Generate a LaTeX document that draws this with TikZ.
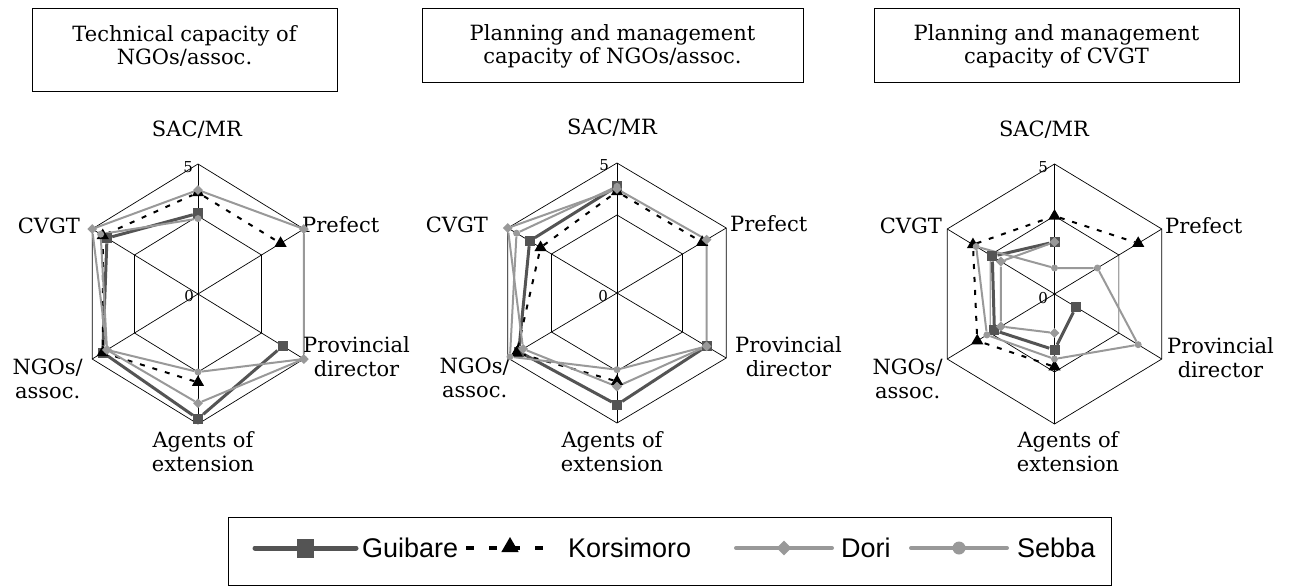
\documentclass[tikz,border=0pt]{standalone}
\usepackage{fontspec}
\setmainfont{DejaVu Serif}
\newfontfamily\legendfont{Liberation Sans}
\usetikzlibrary{shapes.geometric}
\pgfdeclarelayer{background}
\pgfsetlayers{background,main}
\definecolor{guibarecol}{gray}{0.33}
\definecolor{greycol}{gray}{0.6}
\tikzset{
  gridline/.style={draw=black, line width=0.7pt},
  framebox/.style={draw=black, line width=1pt},
  axislabel/.style={font=\fontsize{21}{24}\selectfont, inner sep=0pt, align=center},
  ticklabel/.style={font=\fontsize{15}{16}\selectfont, inner sep=0pt},
  titletext/.style={font=\fontsize{21}{23}\selectfont, align=center, inner sep=0pt},
  legendtext/.style={font=\legendfont\fontsize{27}{29}\selectfont, anchor=west, inner sep=0pt},
  guibare/.style={draw=guibarecol, line width=3pt, line join=round},
  korsimoro/.style={draw=black, line width=2pt, dash pattern=on 5pt off 8pt},
  dori/.style={draw=greycol, line width=2pt, line join=round},
  sebba/.style={draw=greycol, line width=2pt, line join=round},
  sqmark/.style={rectangle, fill=guibarecol, minimum size=10pt, inner sep=0pt},
  trimark/.style={regular polygon, regular polygon sides=3, fill=black, minimum size=14pt, inner sep=0pt},
  diamark/.style={diamond, fill=greycol, minimum size=10pt, inner sep=0pt},
  dotmark/.style={circle, fill=greycol, minimum size=7pt, inner sep=0pt},
}
\begin{document}
\begin{tikzpicture}[x=1pt,y=1pt]
\useasboundingbox (0,0) rectangle (1294,-586);

% title boxes
\draw[framebox] (32,-9) rectangle (337,-92);
\node[titletext] (title-a) at (184.5,-46) {Technical capacity of\\NGOs/assoc.};
\draw[framebox] (422,-9) rectangle (803,-83);
\node[titletext] (title-b) at (612.5,-46) {Planning and management\\capacity of NGOs/assoc.};
\draw[framebox] (874,-9) rectangle (1239,-83);
\node[titletext] (title-c) at (1056.5,-46) {Planning and management\\capacity of CVGT};

% hexagon grids
\begin{pgfonlayer}{background}
\foreach \cx/\cy/\xs in {198/-294/0.94, 617/-293/0.97, 1054.5/-294/0.953}{
  \begin{scope}[shift={(\cx,\cy)}, xscale=\xs]
    \draw[gridline] (90:130) -- (30:130) -- (-30:130) -- (-90:130) -- (-150:130) -- (150:130) -- cycle;
    \draw[gridline] (90:78) -- (30:78) -- (-30:78) -- (-90:78) -- (-150:78) -- (150:78) -- cycle;
    \foreach \a in {90,30,-30,-90,-150,150}
      \draw[gridline] (0,0) -- (\a:130);
  \end{scope}
}
\end{pgfonlayer}

% axis labels
\node[axislabel, anchor=base] (a-sac) at (197,-136) {SAC/MR};
\node[axislabel, anchor=base west] (a-pref) at (302,-232) {Prefect};
\node[axislabel, anchor=west] (a-prov) at (303,-357) {Provincial\\director};
\node[axislabel, anchor=north] (a-agents) at (203,-431) {Agents of\\extension};
\node[axislabel, anchor=north east] (a-ngos) at (83,-359) {NGOs/\\assoc.};
\node[axislabel, anchor=base east] (a-cvgt) at (80,-233) {CVGT};
\node[ticklabel, anchor=east] (a-max) at (193,-167) {5};
\node[ticklabel, anchor=east] (a-min) at (194,-296) {0};

\node[axislabel, anchor=base] (b-sac) at (612,-135) {SAC/MR};
\node[axislabel, anchor=base west] (b-pref) at (730,-231) {Prefect};
\node[axislabel, anchor=west] (b-prov) at (735,-357) {Provincial\\director};
\node[axislabel, anchor=north] (b-agents) at (612,-431) {Agents of\\extension};
\node[axislabel, anchor=north east] (b-ngos) at (510,-358) {NGOs/\\assoc.};
\node[axislabel, anchor=base east] (b-cvgt) at (488,-232) {CVGT};
\node[ticklabel, anchor=east] (b-max) at (609,-165) {5};
\node[ticklabel, anchor=east] (b-min) at (608,-296) {0};

\node[axislabel, anchor=base] (c-sac) at (1044,-136) {SAC/MR};
\node[axislabel, anchor=base west] (c-pref) at (1165,-233) {Prefect};
\node[axislabel, anchor=west] (c-prov) at (1167,-358) {Provincial\\director};
\node[axislabel, anchor=north] (c-agents) at (1068,-431) {Agents of\\extension};
\node[axislabel, anchor=north east] (c-ngos) at (943,-359) {NGOs/\\assoc.};
\node[axislabel, anchor=base east] (c-cvgt) at (942,-233) {CVGT};
\node[ticklabel, anchor=east] (c-max) at (1048,-167) {5};
\node[ticklabel, anchor=east] (c-min) at (1048,-298) {0};

% technical capacity of NGOs/assoc.
\begin{scope}[shift={(198,-294)}, xscale=0.94]
  \foreach \i/\v in {1/3.1,3/4,4/4.8,5/4.5,6/4.3}
    \node[sqmark] (a-g\i) at ({150-60*\i}:{26*\v}) {};
  \foreach \i/\v in {1/3.9,2/3.9,4/3.4,5/4.5,6/4.5}
    \node[trimark] (a-k\i) at ({150-60*\i}:{26*\v}) {};
  \foreach \i/\v in {1/4,2/5,3/5,4/4.2,5/4.3,6/5}
    \node[diamark] (a-d\i) at ({150-60*\i}:{26*\v}) {};
  \foreach \i/\v in {1/2.9,3/5,4/3,5/4.3,6/4.6}
    \node[dotmark] (a-s\i) at ({150-60*\i}:{26*\v}) {};
  \begin{pgfonlayer}{background}
    \draw[guibare] (a-g3) -- (a-g4) -- (a-g5) -- (a-g6) -- (a-g1);
    \draw[korsimoro] (a-k4) -- (a-k5) -- (a-k6) -- (a-k1) -- (a-k2);
    \draw[dori] (a-d1) -- (a-d2) -- (a-d3) -- (a-d4) -- (a-d5) -- (a-d6) -- (a-d1);
    \draw[sebba] (a-s3) -- (a-s4) -- (a-s5) -- (a-s6) -- (a-s1);
  \end{pgfonlayer}
\end{scope}

% planning and management capacity of NGOs/assoc.
\begin{scope}[shift={(617,-293)}, xscale=0.97]
  \foreach \i/\v in {1/4.1,3/4.1,4/4.3,5/4.5,6/4.0}
    \node[sqmark] (b-g\i) at ({150-60*\i}:{26*\v}) {};
  \foreach \i/\v in {1/3.9,2/3.9,4/3.4,5/4.6,6/3.5}
    \node[trimark] (b-k\i) at ({150-60*\i}:{26*\v}) {};
  \foreach \i/\v in {1/4,2/4.1,3/4.1,4/3.6,5/4.3,6/5}
    \node[diamark] (b-d\i) at ({150-60*\i}:{26*\v}) {};
  \foreach \i/\v in {1/4.1,3/4.1,4/2.95,5/4.9,6/4.6}
    \node[dotmark] (b-s\i) at ({150-60*\i}:{26*\v}) {};
  \begin{pgfonlayer}{background}
    \draw[guibare] (b-g3) -- (b-g4) -- (b-g5) -- (b-g6) -- (b-g1);
    \draw[korsimoro] (b-k4) -- (b-k5) -- (b-k6) -- (b-k1) -- (b-k2);
    \draw[dori] (b-d1) -- (b-d2) -- (b-d3) -- (b-d4) -- (b-d5) -- (b-d6) -- (b-d1);
    \draw[sebba] (b-s3) -- (b-s4) -- (b-s5) -- (b-s6) -- (b-s1);
  \end{pgfonlayer}
\end{scope}

% planning and management capacity of CVGT
\begin{scope}[shift={(1054.5,-294)}, xscale=0.953]
  \foreach \i/\v in {1/2,3/1,4/2.15,5/2.8,6/2.9}
    \node[sqmark] (c-g\i) at ({150-60*\i}:{26*\v}) {};
  \foreach \i/\v in {1/3,2/3.9,4/2.8,5/3.6,6/3.8}
    \node[trimark] (c-k\i) at ({150-60*\i}:{26*\v}) {};
  \foreach \i/\v in {1/2,4/1.5,5/2.5,6/2.5}
    \node[diamark] (c-d\i) at ({150-60*\i}:{26*\v}) {};
  \foreach \i/\v in {1/1,2/2,3/3.9,4/2.5,5/3.15,6/3.65}
    \node[dotmark] (c-s\i) at ({150-60*\i}:{26*\v}) {};
  \begin{pgfonlayer}{background}
    \draw[guibare] (c-g3) -- (c-g4) -- (c-g5) -- (c-g6) -- (c-g1);
    \draw[korsimoro] (c-k4) -- (c-k5) -- (c-k6) -- (c-k1) -- (c-k2);
    \draw[dori] (c-d4) -- (c-d5) -- (c-d6) -- (c-d1);
    \draw[sebba] (c-s1) -- (c-s2) -- (c-s3) -- (c-s4) -- (c-s5) -- (c-s6) -- (c-s1);
  \end{pgfonlayer}
\end{scope}

% legend
\draw[framebox] (228,-517) rectangle (1111,-585);
\coordinate (lg-g1) at (255,-548);
\coordinate (lg-g2) at (356,-548);
\draw[guibare, line width=5pt, line cap=round] (lg-g1) -- (lg-g2);
\node[sqmark, minimum width=17pt, minimum height=19pt] (lg-gm) at (305,-548) {};
\node[legendtext] (lg-gt) at (362,-548) {Guibare};
\coordinate (lg-k1) at (466,-548);
\coordinate (lg-k2) at (551,-548);
\draw[korsimoro, line width=3.5pt, dash pattern=on 8pt off 15pt] (lg-k1) -- (lg-k2);
\node[trimark, minimum size=20pt] (lg-km) at (510,-547) {};
\node[legendtext] (lg-kt) at (568,-548) {Korsimoro};
\coordinate (lg-d1) at (736,-548);
\coordinate (lg-d2) at (832,-548);
\draw[dori, line width=4pt, line cap=round] (lg-d1) -- (lg-d2);
\node[diamark, minimum size=15pt] (lg-dm) at (784,-548) {};
\node[legendtext] (lg-dt) at (841,-548) {Dori};
\coordinate (lg-s1) at (911,-548);
\coordinate (lg-s2) at (1007,-548);
\draw[sebba, line width=4pt, line cap=round] (lg-s1) -- (lg-s2);
\node[dotmark, minimum size=13pt] (lg-sm) at (959,-548) {};
\node[legendtext] (lg-st) at (1017,-548) {Sebba};
\end{tikzpicture}
\end{document}
